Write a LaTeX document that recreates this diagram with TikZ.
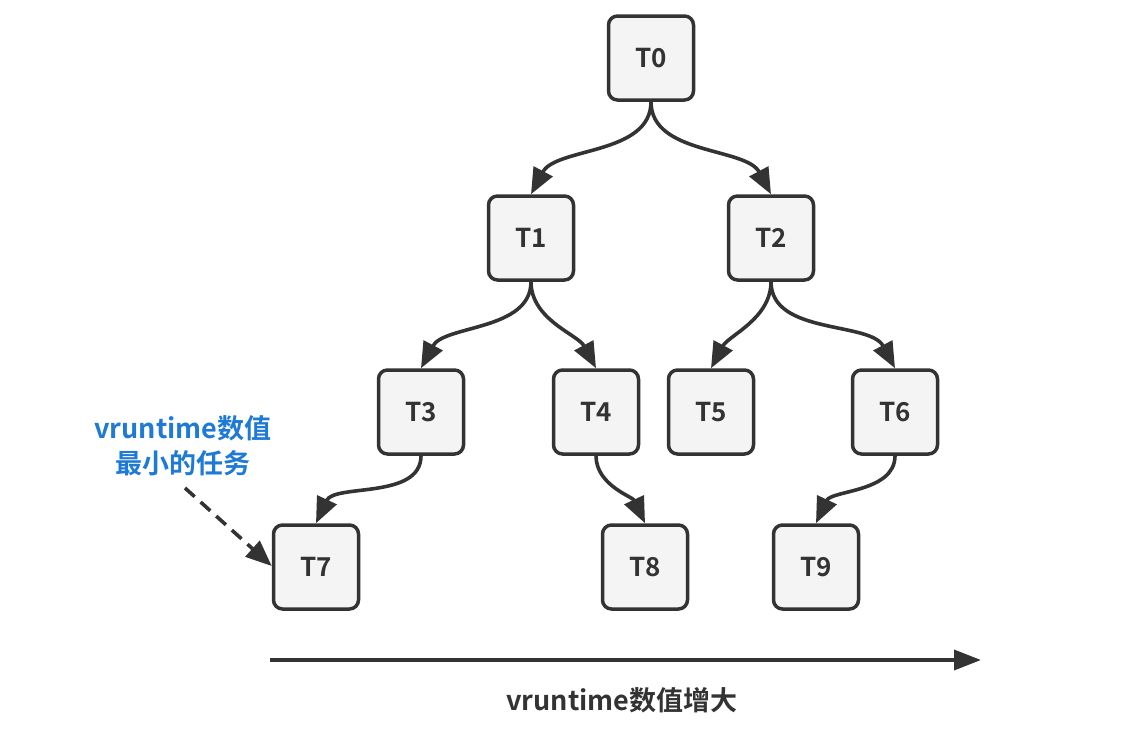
\documentclass[tikz,border=0pt]{standalone}
\usepackage{fontspec}
\setmainfont{Noto Sans CJK SC}[BoldFont={* Bold}]
\usetikzlibrary{arrows.meta}
\definecolor{ink}{HTML}{333333}
\definecolor{boxfill}{HTML}{F4F4F4}
\definecolor{noteblue}{RGB}{30,122,212}
\begin{document}
\begin{tikzpicture}[x=1pt,y=-1pt,
  task/.style={draw=ink,fill=boxfill,line width=3.5pt,rounded corners=9pt,
    minimum width=85pt,minimum height=84pt,inner sep=0pt,
    font=\fontsize{26}{28}\selectfont\bfseries,text=ink},
  link/.style={draw=ink,line width=3.6pt,-{Triangle[length=26pt,width=21pt]}},
  lbl/.style={font=\fontsize{27}{34}\selectfont\bfseries,inner sep=0pt}]
\useasboundingbox (0,0) rectangle (1136,737);
\node[task] (t0) at (651,58) {T0};
\node[task] (t1) at (531,238) {T1};
\node[task] (t2) at (771,238) {T2};
\node[task] (t3) at (421,412) {T3};
\node[task] (t4) at (596,412) {T4};
\node[task] (t5) at (711,412) {T5};
\node[task] (t6) at (895,412) {T6};
\node[task] (t7) at (316,567) {T7};
\node[task] (t8) at (645,567) {T8};
\node[task] (t9) at (816,567) {T9};
\draw[link] (t0.south) to[out=-90,in=62,looseness=0.9] (t1.north);
\draw[link] (t0.south) to[out=-90,in=118,looseness=0.9] (t2.north);
\draw[link] (t1.south) to[out=-90,in=62,looseness=0.9] (t3.north);
\draw[link] (t1.south) to[out=-90,in=118,looseness=0.9] (t4.north);
\draw[link] (t2.south) to[out=-90,in=62,looseness=0.9] (t5.north);
\draw[link] (t2.south) to[out=-90,in=118,looseness=0.9] (t6.north);
\draw[link] (t3.south) to[out=-90,in=65,looseness=0.9] (t7.north);
\draw[link] (t4.south) to[out=-90,in=115,looseness=0.9] (t8.north);
\draw[link] (t6.south) to[out=-90,in=65,looseness=0.9] (t9.north);
\node[lbl,text=noteblue,align=center,font=\fontsize{27}{35}\selectfont\bfseries] (note) at (183,446) {vruntime数值\\最小的任务};
\coordinate (ns) at (185,488);
\draw[link,dash pattern=on 13pt off 8pt] (ns) -- (t7.west|-0,566);
\coordinate (axs) at (270,660);
\coordinate (axe) at (981,660);
\draw[link,-{Triangle[length=27pt,width=20pt]}] (axs) -- (axe);
\node[lbl,text=ink] (axl) at (622,700) {vruntime数值增大};
\end{tikzpicture}
\end{document}
